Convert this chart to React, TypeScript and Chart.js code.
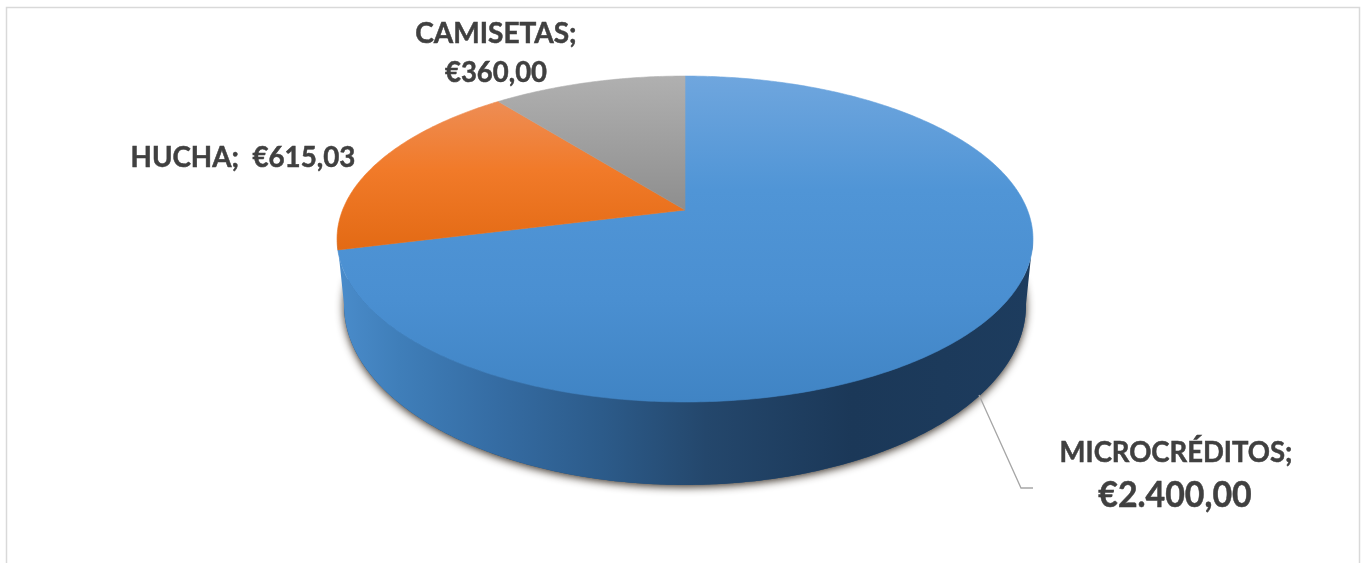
import React, { useEffect, useRef } from "react";
import { Chart, registerables } from "chart.js";

Chart.register(...registerables);

const categories = ["MICROCRÉDITOS", "HUCHA", "CAMISETAS"];
const values = [2400, 615.03, 360];
const valueLabels = ["€2.400,00", "€615,03", "€360,00"];
const baseColors = ["#4a90d2", "#ee7420", "#a0a0a0"];

const WIDTH = 1362;
const HEIGHT = 563;
const FONT = "Lato, 'Open Sans', sans-serif";
const TEXT = "#404040";

// projective disc: tilted view of a circle, so the apex sits above the rim's centre
const P = { cx: 685, cy: 210, bx: 342.4, by: 157.8, k: 0.178 };
// the lower rim is a slightly narrower, taller ellipse because it is nearer the viewer
const RIM = { topMid: 239, bottomMid: 305, xScale: 0.98, yScale: 1.104 };

function project(angle: number, bottom = false) {
  const t = angle + Math.PI / 2;
  const u = Math.sin(t);
  const v = Math.cos(t);
  const d = 1 + P.k * v;
  const x = (P.bx * u) / d;
  const y = P.cy + (-P.by * v) / d;
  if (!bottom) return { x: P.cx + x, y };
  return { x: P.cx + x * RIM.xScale, y: RIM.bottomMid + (y - RIM.topMid) * RIM.yScale };
}

function traceRim(ctx: CanvasRenderingContext2D, a0: number, a1: number, bottom = false) {
  const n = Math.max(8, Math.ceil(Math.abs(a1 - a0) * 90));
  for (let i = 0; i <= n; i++) {
    const p = project(a0 + ((a1 - a0) * i) / n, bottom);
    ctx.lineTo(p.x, p.y);
  }
}

const faceStops: [number, string][][] = [
  [[76, "#6fa6de"], [190, "#5095d6"], [300, "#4a8fd1"], [402, "#4084c4"]],
  [[105, "#ee8c52"], [170, "#f17a29"], [250, "#e36a14"]],
  [[76, "#b0b0b0"], [210, "#8e8e8e"]],
];

function silhouette(ctx: CanvasRenderingContext2D) {
  const widest = (100 * Math.PI) / 180;
  const from = -Math.PI / 2 + widest;
  const to = -Math.PI / 2 + Math.PI * 2 - widest;
  ctx.beginPath();
  traceRim(ctx, from, to, false);
  traceRim(ctx, to, from, true);
  ctx.closePath();
}

function label(ctx: CanvasRenderingContext2D, text: string, x: number, y: number, size: number, sx: number) {
  ctx.save();
  ctx.translate(x, y);
  ctx.scale(sx, 1);
  ctx.font = `bold ${size}px ${FONT}`;
  ctx.lineWidth = 0.5;
  ctx.strokeStyle = TEXT;
  ctx.fillText(text, 0, 0);
  ctx.strokeText(text, 0, 0);
  ctx.restore();
}

const pie3d = {
  id: "pie3d",
  beforeDatasetsDraw(chart: Chart) {
    const ctx = chart.ctx;
    const arcs = chart.getDatasetMeta(0).data as any[];
    ctx.save();

    // shadow cast by the lower rim only, so it fades out where the wall starts
    ctx.save();
    ctx.shadowColor = "rgba(35,25,15,0.9)";
    ctx.shadowBlur = 9;
    ctx.shadowOffsetY = 2;
    ctx.fillStyle = "#2b4f75";
    const start = (92 * Math.PI) / 180;
    ctx.beginPath();
    traceRim(ctx, -Math.PI / 2 + start, -Math.PI / 2 + Math.PI * 2 - start, true);
    ctx.closePath();
    ctx.fill();
    ctx.restore();

    // side wall
    const wall = ctx.createLinearGradient(337, 0, 1033, 0);
    wall.addColorStop(0, "#4a8ccb");
    wall.addColorStop(0.09, "#3f7eb9");
    wall.addColorStop(0.23, "#356ca3");
    wall.addColorStop(0.38, "#2c5b8a");
    wall.addColorStop(0.53, "#24476c");
    wall.addColorStop(0.74, "#1b3858");
    wall.addColorStop(1, "#1d3c5e");
    ctx.fillStyle = wall;
    silhouette(ctx);
    ctx.fill();

    // top face slices, from the angles the library computed
    arcs.forEach((arc, i) => {
      const g = ctx.createLinearGradient(0, 76, 0, 402);
      faceStops[i].forEach(([y, c]) => g.addColorStop((y - 76) / 326, c));
      ctx.fillStyle = g;
      ctx.strokeStyle = g;
      ctx.lineWidth = 0.6;
      ctx.beginPath();
      ctx.moveTo(P.cx, P.cy);
      traceRim(ctx, arc.startAngle, arc.endAngle);
      ctx.closePath();
      ctx.fill();
      ctx.stroke();
    });
    ctx.restore();
    return false;
  },
  afterDraw(chart: Chart) {
    const ctx = chart.ctx;
    ctx.save();

    // frame
    ctx.strokeStyle = "#d9d9d9";
    ctx.lineWidth = 1.5;
    ctx.beginPath();
    ctx.moveTo(6.5, HEIGHT);
    ctx.lineTo(6.5, 7.5);
    ctx.lineTo(1359.5, 7.5);
    ctx.lineTo(1359.5, HEIGHT);
    ctx.stroke();

    // leader line
    ctx.strokeStyle = "#a6a6a6";
    ctx.lineWidth = 1.3;
    ctx.beginPath();
    ctx.moveTo(979, 395);
    ctx.lineTo(1021, 488);
    ctx.lineTo(1033, 488);
    ctx.stroke();

    ctx.fillStyle = TEXT;
    ctx.textAlign = "center";
    ctx.textBaseline = "alphabetic";
    label(ctx, `${categories[2]};`, 496, 43, 28, 1.0);
    label(ctx, valueLabels[2], 496, 82, 28, 0.98);
    label(ctx, `${categories[1]};  ${valueLabels[1]}`, 243, 167, 28, 0.99);
    label(ctx, `${categories[0]};`, 1176, 462, 28, 0.98);
    label(ctx, valueLabels[0], 1175, 507, 36, 0.94);
    ctx.restore();
  },
};

export default function App() {
  const ref = useRef<HTMLCanvasElement>(null);
  useEffect(() => {
    document.body.style.margin = "0";
    document.body.style.background = "#ffffff";
    const chart = new Chart(ref.current!, {
      type: "pie",
      data: {
        labels: categories,
        datasets: [{ data: values, backgroundColor: baseColors, borderWidth: 0 }],
      },
      options: {
        animation: false,
        responsive: false,
        devicePixelRatio: 1,
        rotation: 0,
        plugins: { legend: { display: false }, tooltip: { enabled: false } },
      },
      plugins: [pie3d as any],
    });
    return () => chart.destroy();
  }, []);
  return <canvas ref={ref} width={WIDTH} height={HEIGHT} style={{ display: "block" }} />;
}
